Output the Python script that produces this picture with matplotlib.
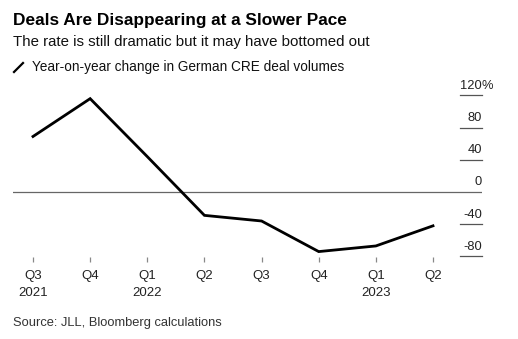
import matplotlib
matplotlib.use("Agg")
import matplotlib.pyplot as plt
from matplotlib.lines import Line2D

plt.rcParams['font.family'] = ['Liberation Sans', 'DejaVu Sans']

quarters = ["Q3", "Q4", "Q1", "Q2", "Q3", "Q4", "Q1", "Q2"]
years = ["2021", "", "2022", "", "", "", "2023", ""]
yoy_change = [69, 116, 44, -29, -36, -74, -67, -42]
y_ticks = [120, 80, 40, 0, -40, -80]

W, H = 518, 339
fig = plt.figure(figsize=(W / 100, H / 100), dpi=100)

# plot area in pixel terms
left_px, right_px = 13, 482
top_px, bottom_px = 90.6, 256.9
ax = fig.add_axes([left_px / W, 1 - bottom_px / H,
                   (right_px - left_px) / W, (bottom_px - top_px) / H])

x = list(range(len(yoy_change)))
px_per_x = 57.14
ax.set_xlim(-(33 - left_px) / px_per_x, 7 + (right_px - 433) / px_per_x)
ax.set_ylim(-80.6, 126)

for s in ax.spines.values():
    s.set_visible(False)
ax.set_yticks([])
ax.set_xticks(x)
ax.set_xticklabels([])
ax.tick_params(axis="x", length=3.5, width=0.9, color="#888888", pad=0)

# short gridline stubs at the right, full-width zero line
stub_start = (460 - left_px) / (right_px - left_px)
for v in y_ticks:
    if v == 0:
        ax.axhline(0, xmin=0, xmax=1, color="#666666", lw=0.9, zorder=1)
    else:
        ax.axhline(v, xmin=stub_start, xmax=1, color="#555555", lw=0.9,
                   zorder=1, clip_on=False)

ax.plot(x, yoy_change, color="black", lw=2.0, solid_joinstyle="miter",
        zorder=3)

# y-axis labels sitting above each line
xlab = 7 + (right_px - 433) / px_per_x
for v in y_ticks:
    ax.text(xlab, v + 4.5, f"{v}", ha="right", va="bottom", fontsize=9.3,
            color="#222222", clip_on=False)
ax.text(xlab, y_ticks[0] + 4.5, "%", ha="left", va="bottom", fontsize=9.3,
        color="#222222", clip_on=False)

# x-axis labels
for i, (q, yr) in enumerate(zip(quarters, years)):
    ax.annotate(q, (i, 0), xycoords=("data", "axes fraction"),
                xytext=(0, -19), textcoords="offset pixels",
                ha="center", va="center", fontsize=9.5, color="#222222")
    if yr:
        ax.annotate(yr, (i, 0), xycoords=("data", "axes fraction"),
                    xytext=(0, -36.5), textcoords="offset pixels",
                    ha="center", va="center", fontsize=9.5, color="#222222")

# header text
fig.text(13 / W, 1 - 21 / H, "Deals Are Disappearing at a Slower Pace",
         fontsize=12.45, fontweight="bold", ha="left", va="center",
         color="#000000")
fig.text(13 / W, 1 - 42 / H,
         "The rate is still dramatic but it may have bottomed out",
         fontsize=10.85, ha="left", va="center", color="#111111")
fig.add_artist(Line2D([14 / W, 23 / W], [1 - 72 / H, 1 - 63 / H],
                      color="black", lw=1.6, transform=fig.transFigure))
fig.text(32 / W, 1 - 67 / H, "Year-on-year change in German CRE deal volumes",
         fontsize=9.8, ha="left", va="center", color="#111111")

fig.text(13 / W, 1 - 323 / H, "Source: JLL, Bloomberg calculations",
         fontsize=9.25, ha="left", va="center", color="#333333")

fig.savefig("out.png", dpi=100, facecolor="white")
